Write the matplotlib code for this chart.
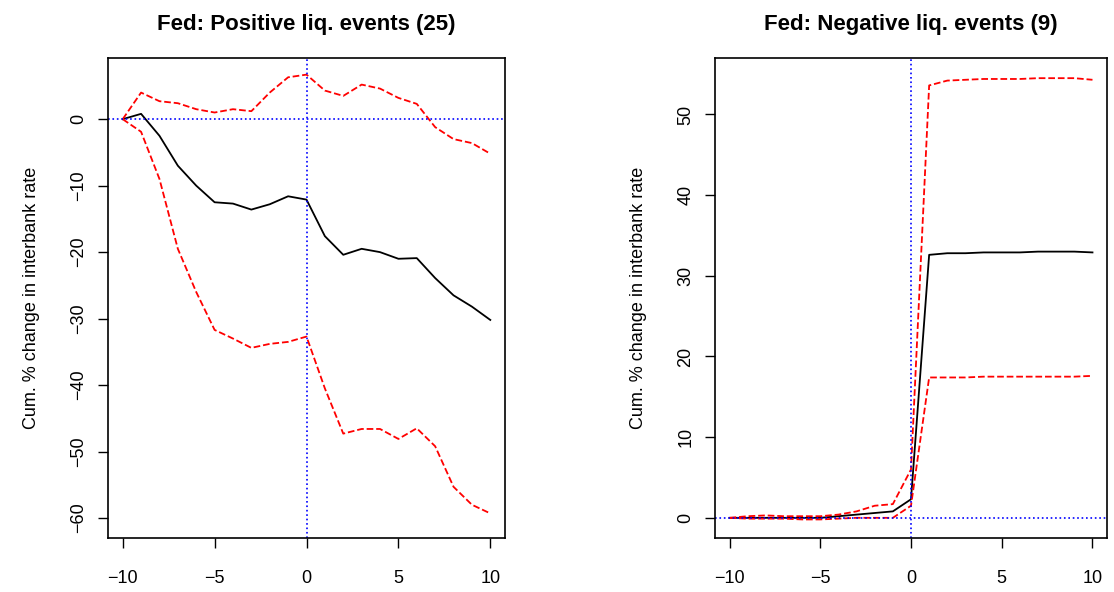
import matplotlib.pyplot as plt
import numpy as np

plt.rcParams['font.family'] = ['Liberation Sans', 'DejaVu Sans']

x = np.arange(-10, 11)

pos_mean = [0, 0.8, -2.5, -7, -10, -12.5, -12.7, -13.6, -12.8, -11.6, -12.1,
            -17.6, -20.4, -19.5, -20, -21, -20.9, -23.9, -26.5, -28.2, -30.2]
pos_hi = [0, 4, 2.7, 2.4, 1.5, 1.0, 1.5, 1.2, 4, 6.3, 6.7,
          4.3, 3.5, 5.2, 4.6, 3.2, 2.3, -1.2, -3, -3.6, -5.2]
pos_lo = [0, -1.9, -9, -19.5, -26, -31.7, -33, -34.4, -33.8, -33.5, -32.7,
          -40.5, -47.3, -46.6, -46.6, -48.1, -46.5, -49.2, -55.3, -58, -59.3]

neg_mean = [0, 0, 0, 0, 0, 0, 0.2, 0.4, 0.6, 0.8, 2.3,
            32.6, 32.8, 32.8, 32.9, 32.9, 32.9, 33.0, 33.0, 33.0, 32.9]
neg_hi = [0, 0.2, 0.3, 0.2, 0.2, 0.2, 0.4, 0.8, 1.5, 1.7, 6,
          53.6, 54.2, 54.3, 54.4, 54.4, 54.4, 54.5, 54.5, 54.5, 54.3]
neg_lo = [0, -0.1, -0.1, -0.1, -0.2, -0.2, -0.1, 0, 0, 0, 1.5,
          17.4, 17.4, 17.4, 17.5, 17.5, 17.5, 17.5, 17.5, 17.5, 17.6]

fig = plt.figure(figsize=(11.14, 5.92), dpi=100)
W, H = 1114, 592
panels = [
    ([108, 54, 397, 480], pos_mean, pos_hi, pos_lo, 'Fed: Positive liq. events (25)',
     [-60, -50, -40, -30, -20, -10, 0], (-63, 9.2)),
    ([715, 54, 392, 480], neg_mean, neg_hi, neg_lo, 'Fed: Negative liq. events (9)',
     [0, 10, 20, 30, 40, 50], (-2.5, 57)),
]
for box, m, hi, lo, title, yt, yl in panels:
    l, b, w, h = box
    ax = fig.add_axes([l / W, b / H, w / W, h / H])
    ax.plot(x, m, color='black', lw=1.3)
    ax.plot(x, hi, color='red', ls='--', lw=1.3)
    ax.plot(x, lo, color='red', ls='--', lw=1.3)
    ax.axhline(0, color='blue', ls=':', lw=1.2)
    ax.axvline(0, color='blue', ls=':', lw=1.2)
    ax.set_xlim(-10.8, 10.8)
    ax.set_ylim(*yl)
    ax.set_xticks([-10, -5, 0, 5, 10])
    ax.set_xticklabels(['\u221210', '\u22125', '0', '5', '10'])
    ax.set_yticks(yt)
    ax.set_yticklabels([str(v).replace('-', '\u2212') for v in yt], rotation=90, va='center')
    ax.tick_params(labelsize=13, length=7, width=1, pad=8)
    ax.tick_params(axis='x', pad=16)
    for s in ax.spines.values():
        s.set_linewidth(1.2)
    ax.set_title(title, fontsize=16, fontweight='bold', pad=20)
    ax.set_ylabel('Cum. % change in interbank rate', fontsize=13, labelpad=22)

fig.savefig('out.png', dpi=100)
